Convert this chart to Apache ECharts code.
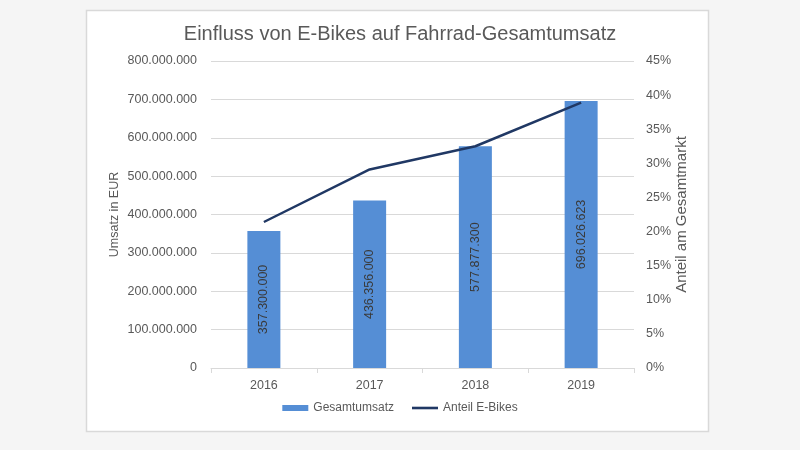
<!DOCTYPE html>
<html>
<head>
<meta charset="utf-8">
<script src="https://cdn.jsdelivr.net/npm/echarts@6/dist/echarts.min.js"></script>
<style>html,body{margin:0;padding:0;background:#f5f5f5;}#c{width:800px;height:450px;}</style>
</head>
<body>
<div id="c"></div>
<script>
const categories = ['2016', '2017', '2018', '2019'];
const revenue = [357300000, 436356000, 577877300, 696026623];
const ebikeShare = [21.4, 29.1, 32.5, 38.9];
const revenueTicks = [0, 800000000, 100000000];
const shareTicks = [0, 45, 5];

function fmtDots(v) {
  return String(Math.round(v)).replace(/\B(?=(\d{3})+(?!\d))/g, '.');
}

const FONT = '"Liberation Sans", Arial, sans-serif';
const TXT = '#595959';

const chart = echarts.init(document.getElementById('c'), null, {renderer: 'canvas'});
chart.setOption({
  backgroundColor: '#f5f5f5',
  animation: false,
  textStyle: {fontFamily: FONT},
  graphic: [{
    type: 'rect', z: -10, silent: true,
    shape: {x: 86.5, y: 10.5, width: 622, height: 421},
    style: {fill: '#ffffff', stroke: '#d9d9d9', lineWidth: 1.5}
  }],
  title: {
    text: 'Einfluss von E-Bikes auf Fahrrad-Gesamtumsatz',
    left: 'center', top: 19,
    textStyle: {fontFamily: FONT, fontSize: 20, fontWeight: 'normal', color: TXT}
  },
  legend: {
    bottom: 31, left: 'center', itemGap: 18,
    itemWidth: 26, itemHeight: 6, symbolKeepAspect: true,
    textStyle: {fontFamily: FONT, fontSize: 12, color: TXT},
    data: [
      {name: 'Gesamtumsatz', icon: 'rect'},
      {name: 'Anteil E-Bikes', icon: 'path://M0,0L26,0L26,2.6L0,2.6Z', itemStyle: {color: '#203864'}}
    ]
  },
  grid: {left: 211, right: 166, top: 61, bottom: 82},
  xAxis: {
    type: 'category', data: categories,
    axisLine: {lineStyle: {color: '#d9d9d9', width: 1}},
    axisTick: {show: true, length: 5, lineStyle: {color: '#d9d9d9'}},
    axisLabel: {color: TXT, fontSize: 12.5, margin: 11, fontFamily: FONT}
  },
  yAxis: [{
    type: 'value', min: revenueTicks[0], max: revenueTicks[1], interval: revenueTicks[2],
    name: 'Umsatz in EUR', nameLocation: 'middle', nameGap: 90, nameMoveOverlap: false,
    nameTextStyle: {color: TXT, fontSize: 12.5, fontFamily: FONT},
    axisLine: {show: false}, axisTick: {show: false},
    splitLine: {lineStyle: {color: '#d9d9d9', width: 1}},
    axisLabel: {color: TXT, fontSize: 12.5, margin: 14, fontFamily: FONT, formatter: fmtDots}
  }, {
    type: 'value', min: shareTicks[0], max: shareTicks[1], interval: shareTicks[2],
    name: 'Anteil am Gesamtmarkt', nameLocation: 'middle', nameGap: 40, nameMoveOverlap: false,
    nameTextStyle: {color: TXT, fontSize: 15, fontFamily: FONT},
    axisLine: {show: false}, axisTick: {show: false}, splitLine: {show: false},
    axisLabel: {color: TXT, fontSize: 12.5, margin: 12, fontFamily: FONT, formatter: '{value}%'}
  }],
  series: [{
    name: 'Gesamtumsatz', type: 'bar', data: revenue, barWidth: 33,
    itemStyle: {color: '#558ed5'},
    label: {
      show: true, position: 'inside', rotate: 90,
      color: '#3a3a3a', fontSize: 12.5, fontFamily: FONT,
      formatter: p => fmtDots(p.value)
    }
  }, {
    name: 'Anteil E-Bikes', type: 'line', yAxisIndex: 1, data: ebikeShare,
    symbol: 'none', lineStyle: {color: '#203864', width: 2.5},
    itemStyle: {color: '#203864'}
  }]
});
</script>
</body>
</html>
